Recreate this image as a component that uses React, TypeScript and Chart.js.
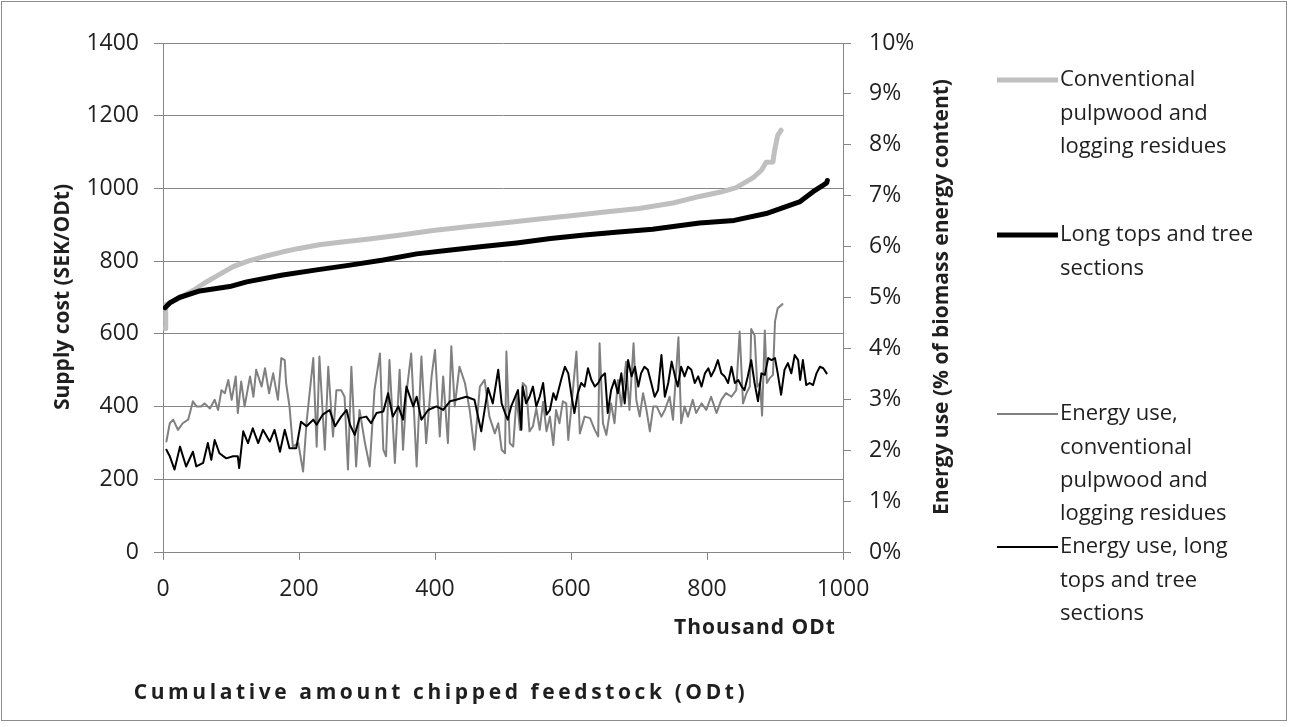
import React, { useEffect, useRef } from 'react';
import { Chart, registerables } from 'chart.js';

Chart.register(...registerables);

// ---------- DATA ----------
// x: thousand ODt (cumulative), y: SEK/ODt
const convCost: [number, number][] = [
  [3, 615], [4, 680], [15, 690], [30, 705], [45, 720], [61, 740], [80, 760], [103, 785], [125, 800],
  [147, 812], [175, 825], [200, 835], [230, 845], [260, 852], [300, 860], [350, 872], [400, 885],
  [450, 895], [500, 905], [550, 915], [600, 925], [650, 935], [700, 945], [750, 960], [789, 978],
  [820, 990], [843, 1002], [868, 1030], [880, 1050], [887, 1072], [897, 1073], [899, 1100],
  [904, 1146], [909, 1160],
];

const longCost: [number, number][] = [
  [3, 672], [10, 685], [24, 700], [54, 718], [98, 730], [123, 743], [176, 762], [226, 776],
  [275, 789], [324, 803], [373, 820], [420, 830], [470, 840], [520, 850], [570, 862], [620, 872],
  [670, 880], [720, 888], [789, 905], [840, 912], [887, 931], [936, 963], [956, 991], [971, 1009],
  [976, 1015], [977, 1022],
];

// x: thousand ODt, y: % of biomass energy content
const convEnergy: [number, number][] = [
  [5, 2.17], [10, 2.53], [15, 2.6], [22, 2.4], [29, 2.53], [37, 2.6], [44, 2.96], [49, 2.86], [56, 2.86],
  [61, 2.92], [69, 2.82], [76, 2.99], [81, 2.79], [86, 3.18], [91, 3.12], [96, 3.38], [101, 2.99],
  [107, 3.45], [110, 2.73], [115, 3.35], [120, 2.86], [128, 3.45], [133, 3.05], [137, 3.58], [145, 3.25],
  [150, 3.61], [156, 3.12], [162, 3.51], [169, 2.99], [174, 3.81], [179, 3.77], [181, 3.32], [186, 2.86],
  [191, 2.07], [199, 2.14], [206, 1.58], [211, 2.53], [221, 3.81], [226, 2.07], [230, 3.84], [238, 2.01],
  [243, 3.64], [250, 2.27], [255, 3.18], [262, 3.18], [267, 3.05], [272, 1.62], [277, 3.64], [284, 1.68],
  [289, 2.79], [297, 2.14], [304, 1.68], [311, 3.18], [319, 3.9], [324, 2.01], [328, 1.88], [333, 3.77],
  [341, 1.75], [348, 3.58], [353, 2.01], [358, 3.12], [365, 3.9], [373, 1.68], [380, 3.84], [387, 2.14],
  [395, 3.45], [400, 3.97], [407, 2.27], [412, 3.45], [419, 2.14], [424, 4.04], [429, 2.86], [436, 3.64],
  [444, 3.32], [451, 2.79], [458, 2.01], [466, 3.25], [473, 3.38], [480, 2.66], [488, 2.33], [493, 2.53],
  [498, 2.01], [503, 1.94], [505, 3.94], [510, 2.14], [515, 2.07], [520, 3.05], [525, 2.4], [529, 3.32],
  [534, 3.25], [539, 2.37], [544, 2.47], [549, 2.82], [554, 2.4], [559, 2.95], [564, 2.37], [569, 2.66],
  [574, 2.1], [578, 2.79], [583, 2.53], [588, 2.96], [593, 2.92], [596, 2.2], [601, 2.92], [608, 3.94],
  [613, 2.33], [620, 2.66], [628, 2.63], [635, 2.4], [640, 2.27], [642, 4.1], [647, 2.53], [652, 2.3],
  [659, 2.92], [664, 2.53], [669, 3.38], [674, 2.86], [681, 3.74], [686, 2.79], [692, 4.1], [696, 2.99],
  [701, 2.66], [706, 3.12], [711, 2.79], [716, 2.37], [721, 2.86], [726, 2.86], [733, 2.66], [738, 2.79],
  [745, 3.05], [750, 2.6], [758, 4.22], [762, 2.53], [767, 2.86], [772, 2.66], [779, 2.99], [784, 2.73],
  [792, 2.92], [799, 2.79], [806, 3.05], [814, 2.73], [821, 2.99], [828, 3.12], [836, 3.05], [843, 3.18],
  [848, 4.33], [853, 2.92], [858, 3.12], [863, 3.25], [865, 4.38], [870, 4.26], [874, 3.25], [878, 3.32],
  [881, 2.68], [885, 4.35], [888, 3.32], [892, 3.41], [897, 3.48], [900, 4.53], [904, 4.79], [911, 4.87],
];

const longEnergy: [number, number][] = [
  [5, 2.01], [10, 1.88], [17, 1.62], [25, 2.07], [34, 1.68], [44, 1.97], [49, 1.68], [59, 1.75], [66, 2.14],
  [71, 1.81], [76, 2.2], [83, 1.94], [93, 1.84], [103, 1.88], [110, 1.88], [112, 1.65], [118, 2.37],
  [125, 2.14], [132, 2.43], [140, 2.14], [147, 2.4], [157, 2.17], [164, 2.4], [172, 1.97], [179, 2.4],
  [186, 2.04], [196, 2.04], [203, 2.56], [211, 2.47], [221, 2.6], [226, 2.5], [235, 2.7], [245, 2.79],
  [253, 2.47], [262, 2.66], [270, 2.79], [275, 2.5], [282, 2.3], [289, 2.63], [299, 2.66], [306, 2.53],
  [314, 2.73], [324, 2.76], [331, 3.12], [338, 2.66], [346, 2.86], [353, 2.6], [358, 3.25], [368, 2.86],
  [373, 3.05], [380, 2.6], [390, 2.79], [402, 2.86], [412, 2.79], [422, 2.96], [431, 2.99], [446, 3.05],
  [458, 2.99], [468, 2.37], [478, 3.22], [485, 2.92], [493, 3.58], [498, 2.92], [503, 2.73], [507, 2.6],
  [512, 2.86], [517, 3.02], [522, 3.18], [527, 2.4], [529, 3.25], [534, 2.92], [539, 3.05], [544, 3.25],
  [549, 2.86], [554, 3.05], [559, 3.32], [564, 2.7], [569, 2.79], [574, 3.12], [578, 2.99], [586, 3.41],
  [591, 3.64], [596, 3.51], [601, 3.05], [605, 2.73], [610, 3.12], [615, 3.32], [620, 3.25], [625, 3.61],
  [630, 3.38], [635, 3.25], [640, 3.32], [645, 3.45], [650, 3.51], [654, 2.73], [659, 3.18], [664, 3.38],
  [669, 3.12], [674, 3.51], [679, 2.92], [684, 3.77], [689, 3.45], [694, 3.64], [699, 3.25], [703, 3.51],
  [708, 3.64], [713, 3.58], [718, 3.32], [723, 3.05], [728, 3.18], [733, 3.87], [738, 3.05], [743, 3.32],
  [748, 3.74], [753, 3.45], [757, 3.25], [762, 3.64], [767, 3.45], [772, 3.64], [777, 3.58], [782, 3.32],
  [787, 3.45], [792, 3.25], [797, 3.51], [802, 3.61], [806, 3.45], [811, 3.58], [816, 3.77], [821, 3.51],
  [826, 3.45], [831, 3.32], [836, 3.64], [841, 3.32], [846, 3.38], [851, 3.25], [855, 3.18], [860, 3.45],
  [865, 3.77], [870, 3.32], [875, 2.96], [880, 3.51], [885, 3.48], [890, 3.81], [895, 3.77], [900, 3.81],
  [904, 3.51], [909, 3.09], [914, 3.58], [919, 3.71], [924, 3.51], [929, 3.87], [934, 3.77], [937, 3.38],
  [941, 3.77], [946, 3.28], [951, 3.32], [956, 3.28], [961, 3.51], [966, 3.64], [971, 3.61], [976, 3.51],
];

const seriesNames = [
  'Conventional pulpwood and logging residues',
  'Long tops and tree sections',
  'Energy use, conventional pulpwood and logging residues',
  'Energy use, long tops and tree sections',
];
const legendLines: string[][] = [
  ['Conventional', 'pulpwood and', 'logging residues'],
  ['Long tops and tree', 'sections'],
  ['Energy use,', 'conventional', 'pulpwood and', 'logging residues'],
  ['Energy use, long', 'tops and tree', 'sections'],
];
const leftTitle = 'Supply cost (SEK/ODt)';
const rightTitle = 'Energy use (% of biomass energy content)';
const xUnitTitle = 'Thousand ODt';
const xTitle = 'Cumulative amount chipped feedstock (ODt)';

// ---------- STYLE ----------
const W = 1290;
const H = 727;
const FONT = '"Open Sans", "DejaVu Sans", sans-serif';
const TEXT = '#1f1f1f';
const AXIS = '#868686';
const LIGHT = '#bfbfbf';
const MID = '#808080';
const BLACK = '#000000';
const seriesColors = [LIGHT, BLACK, MID, BLACK];
const seriesWidths = [5, 5, 2, 2];
const legendFirstY = [80, 235, 414, 547];
const legendLineGap = 33.3;
const RIGHT_LABEL_X = 869;

const toPts = (arr: [number, number][]) => arr.map(([x, y]) => ({ x, y }));

const extrasPlugin = {
  id: 'extras',
  beforeDraw(chart: any) {
    const ctx = chart.ctx;
    ctx.save();
    ctx.fillStyle = '#ffffff';
    ctx.fillRect(0, 0, chart.width, chart.height);
    ctx.restore();
  },
  afterDraw(chart: any) {
    const ctx = chart.ctx as CanvasRenderingContext2D;
    ctx.save();
    ctx.fillStyle = TEXT;
    ctx.textBaseline = 'middle';

    // right axis tick labels (left-aligned next to the axis)
    const r = chart.scales.y1;
    ctx.font = `23px ${FONT}`;
    ctx.textAlign = 'left';
    r.ticks.forEach((t: any) => {
      ctx.fillText(`${t.value}%`, RIGHT_LABEL_X, r.getPixelForValue(t.value));
    });

    ctx.font = `bold 21px ${FONT}`;
    // left title
    ctx.save();
    ctx.translate(63, 297);
    ctx.rotate(-Math.PI / 2);
    ctx.textAlign = 'center';
    ctx.fillText(leftTitle, 0, 0);
    ctx.restore();
    // right title
    ctx.save();
    ctx.translate(942, 297);
    ctx.rotate(-Math.PI / 2);
    ctx.textAlign = 'center';
    ctx.fillText(rightTitle, 0, 0);
    ctx.restore();
    // x titles
    ctx.textAlign = 'center';
    (ctx as any).letterSpacing = '1px';
    ctx.fillText(xUnitTitle, 755, 628);
    (ctx as any).letterSpacing = '3.6px';
    ctx.fillText(xTitle, 441, 693);
    (ctx as any).letterSpacing = '0px';

    // legend
    ctx.font = `22px ${FONT}`;
    ctx.textAlign = 'left';
    legendLines.forEach((lines, i) => {
      const y0 = legendFirstY[i];
      ctx.save();
      ctx.strokeStyle = seriesColors[i];
      ctx.lineWidth = seriesWidths[i];
      ctx.beginPath();
      ctx.moveTo(997, y0);
      ctx.lineTo(1058, y0);
      ctx.stroke();
      ctx.restore();
      lines.forEach((t, j) => {
        ctx.fillText(t, 1060, y0 + j * legendLineGap);
      });
    });

    // frame
    ctx.strokeStyle = '#8c8c8c';
    ctx.lineWidth = 1;
    ctx.strokeRect(1.5, 1.5, 1285, 719);
    ctx.restore();
  },
};

export default function App() {
  const ref = useRef<HTMLCanvasElement | null>(null);
  useEffect(() => {
    if (!ref.current) return;
    const data = [convCost, longCost, convEnergy, longEnergy];
    const axes = ['y', 'y', 'y1', 'y1'];
    const orders = [2, 1, 4, 3];
    const tickFont = { family: FONT, size: 23 };
    const chart = new Chart(ref.current, {
      type: 'line',
      data: {
        datasets: data.map((d, i) => ({
          label: seriesNames[i],
          data: toPts(d),
          yAxisID: axes[i],
          borderColor: seriesColors[i],
          backgroundColor: seriesColors[i],
          borderWidth: seriesWidths[i],
          pointRadius: 0,
          tension: 0,
          fill: false,
          order: orders[i],
          borderJoinStyle: 'round' as const,
          borderCapStyle: 'round' as const,
        })),
      },
      options: {
        animation: false,
        responsive: false,
        maintainAspectRatio: false,
        events: [],
        layout: { padding: { top: 43, left: 0, right: 0, bottom: 0 } },
        plugins: { legend: { display: false }, tooltip: { enabled: false }, title: { display: false } },
        scales: {
          x: {
            type: 'linear',
            min: 0,
            max: 1000,
            ticks: { stepSize: 200, padding: 16, color: TEXT, font: tickFont, callback: (v: any) => String(v) },
            grid: { drawOnChartArea: false, drawTicks: true, tickLength: 8, color: AXIS, lineWidth: 1 },
            border: { display: true, color: AXIS, width: 1 },
            afterFit: (s: any) => { s.height = 175; },
          },
          y: {
            position: 'left',
            min: 0,
            max: 1400,
            ticks: { stepSize: 200, padding: 15, color: TEXT, font: tickFont, callback: (v: any) => String(v) },
            grid: { drawOnChartArea: true, drawTicks: true, tickLength: 9, color: AXIS, lineWidth: 1 },
            border: { display: true, color: AXIS, width: 1 },
            afterFit: (s: any) => { s.width = 163; },
          },
          y1: {
            position: 'right',
            min: 0,
            max: 10,
            ticks: { stepSize: 1, display: false, callback: (v: any) => `${v}%` },
            grid: { drawOnChartArea: false, drawTicks: true, tickLength: 8, color: AXIS, lineWidth: 1 },
            border: { display: true, color: AXIS, width: 1 },
            afterFit: (s: any) => { s.width = 447; },
          },
        },
      } as any,
      plugins: [extrasPlugin],
    });
    return () => chart.destroy();
  }, []);

  return (
    <div style={{ position: 'fixed', left: 0, top: 0, width: W, height: H, background: '#fff' }}>
      <canvas ref={ref} width={W} height={H} style={{ display: 'block', width: W, height: H }} />
    </div>
  );
}
